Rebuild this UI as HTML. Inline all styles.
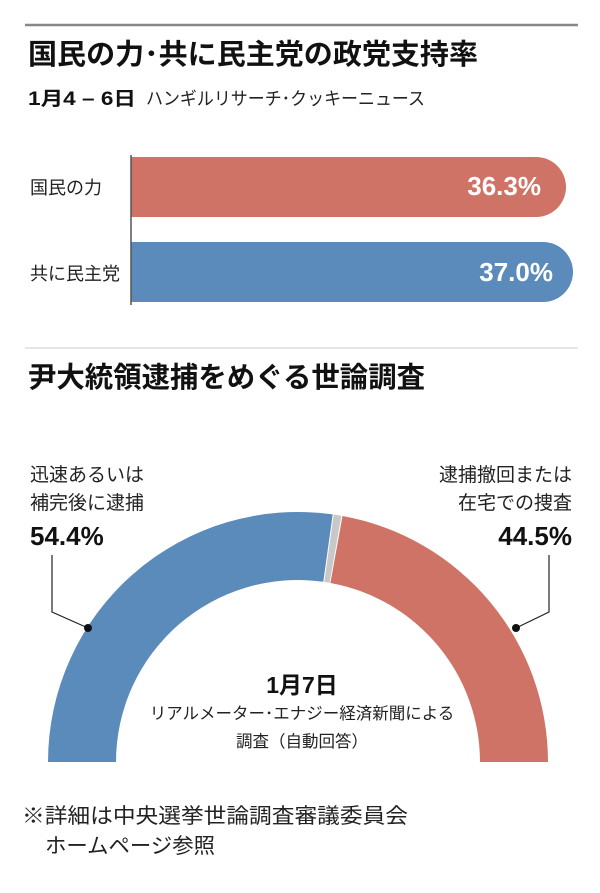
<!DOCTYPE html>
<html><head><meta charset="utf-8"><style>
body{margin:0;background:#fff;}
svg text{font-family:"Liberation Sans","Noto Sans CJK JP",sans-serif;}
</style></head><body>
<svg width="600" height="888" viewBox="0 0 600 888" xmlns="http://www.w3.org/2000/svg">
<rect width="600" height="888" fill="#fff"/>
<line x1="25" y1="25" x2="578" y2="25" stroke="#888" stroke-width="2.5"/>
<text x="28" y="64" font-size="28.5" font-weight="bold" fill="#111" textLength="450" lengthAdjust="spacingAndGlyphs">国民の力･共に民主党の政党支持率</text>
<text x="28" y="105" font-size="19" font-weight="bold" fill="#111" textLength="108" lengthAdjust="spacingAndGlyphs">1月4 – 6日</text>
<text x="146" y="105" font-size="18" fill="#222" textLength="279" lengthAdjust="spacingAndGlyphs">ハンギルリサーチ･クッキーニュース</text>
<path d="M131 157 H536 A30 30 0 0 1 536 217 H131 Z" fill="#cf7367"/>
<path d="M131 242 H543 A30 30 0 0 1 543 302 H131 Z" fill="#5b8bbb"/>
<line x1="131" y1="155" x2="131" y2="305" stroke="#555" stroke-width="1.5"/>
<text x="30" y="194" font-size="18" fill="#222">国民の力</text>
<text x="30" y="280" font-size="18" fill="#222">共に民主党</text>
<text x="541" y="195" font-size="26" font-weight="bold" fill="#fff" text-anchor="end">36.3%</text>
<text x="553" y="281" font-size="26" font-weight="bold" fill="#fff" text-anchor="end">37.0%</text>
<line x1="25" y1="348" x2="578" y2="348" stroke="#ddd" stroke-width="1.5"/>
<text x="28" y="387" font-size="28.5" font-weight="bold" fill="#111" textLength="397" lengthAdjust="spacingAndGlyphs">尹大統領逮捕をめぐる世論調査</text>
<path d="M48 762 A250 250 0 0 1 332.7 514.4 L323.3 581.8 A182 182 0 0 0 116 762 Z" fill="#5b8bbb"/>
<path d="M333.7 514.5 A250 250 0 0 1 341.4 515.8 L329.6 582.8 A182 182 0 0 0 324.3 581.9 Z" fill="#c8c8c8"/>
<path d="M342.5 516 A250 250 0 0 1 548 762 L480 762 A182 182 0 0 0 330.4 583 Z" fill="#cf7367"/>
<polyline points="88,628 52,612 52,555" fill="none" stroke="#222" stroke-width="1.2"/>
<polyline points="516,628 549,612 549,555" fill="none" stroke="#222" stroke-width="1.2"/>
<circle cx="88" cy="628" r="4" fill="#111"/>
<circle cx="516" cy="628" r="4" fill="#111"/>
<text x="30" y="481" font-size="19" fill="#222">迅速あるいは</text>
<text x="30" y="509" font-size="19" fill="#222">補完後に逮捕</text>
<text x="30" y="545" font-size="26" font-weight="bold" fill="#111">54.4%</text>
<text x="572" y="481" font-size="19" fill="#222" text-anchor="end">逮捕撤回または</text>
<text x="572" y="509" font-size="19" fill="#222" text-anchor="end">在宅での捜査</text>
<text x="572" y="545" font-size="26" font-weight="bold" fill="#111" text-anchor="end">44.5%</text>
<text x="302" y="693" font-size="23" font-weight="bold" fill="#111" text-anchor="middle">1月7日</text>
<text x="302" y="719" font-size="16.5" fill="#222" text-anchor="middle">リアルメーター･エナジー経済新聞による</text>
<text x="302" y="747" font-size="16.5" fill="#222" text-anchor="middle">調査（自動回答）</text>
<text x="22" y="823" font-size="21" fill="#222" textLength="386" lengthAdjust="spacingAndGlyphs">※詳細は中央選挙世論調査審議委員会</text>
<text x="45" y="853" font-size="21" fill="#222" textLength="170" lengthAdjust="spacingAndGlyphs">ホームページ参照</text>
</svg>
</body></html>
